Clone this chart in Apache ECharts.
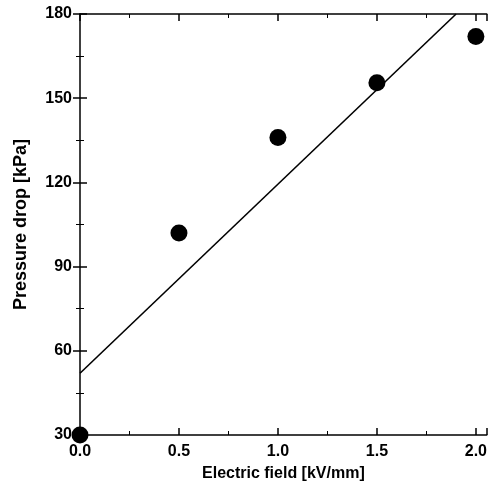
<!DOCTYPE html>
<html><head><meta charset="utf-8">
<script src="https://cdn.jsdelivr.net/npm/echarts@6/dist/echarts.min.js"></script>
<style>html,body{margin:0;padding:0;background:#fff}#c{width:490px;height:487px}</style>
</head><body><div id="c"></div>
<script>
const fieldKV = [0.0, 0.5, 1.0, 1.5, 2.0];
const pressureKPa = [30, 102, 136, 155.5, 172];
const fitLineX = [0.0, 1.9];
const fitLineY = [52, 180];
const xTicks = [0.0, 0.5, 1.0, 1.5, 2.0];
const yTicks = [30, 60, 90, 120, 150, 180];

const font = 'Liberation Sans, Arial, sans-serif';
const chart = echarts.init(document.getElementById('c'));
function axisBase(extra) {
  return Object.assign({
    type: 'value',
    axisLine: {show: true, onZero: false, lineStyle: {color: '#000', width: 1.5}},
    axisTick: {show: true, inside: true, length: 7, lineStyle: {color: '#000', width: 1.5}},
    minorTick: {show: true, splitNumber: 2, length: 4, lineStyle: {color: '#000', width: 1}},
    splitLine: {show: false}
  }, extra);
}
const tickIn = {show: true, inside: false, length: -7, lineStyle: {color: '#000', width: 1.5}};
const minorIn = {show: true, splitNumber: 2, length: -4, lineStyle: {color: '#000', width: 1}};
const xLabel = v => xTicks.some(t => Math.abs(t - v) < 1e-6) ? v.toFixed(1) : '';
const yLabel = v => yTicks.includes(v) ? String(v) : '';
const labelStyle = {fontFamily: font, fontWeight: 'bold', fontSize: 16, color: '#000'};
chart.setOption({
  animation: false,
  grid: {left: 80, top: 14, width: 409, height: 422},
  xAxis: [
    axisBase({
      min: 0, max: 2.055, interval: 0.5, position: 'bottom',
      axisTick: tickIn, minorTick: minorIn,
      name: 'Electric field [kV/mm]', nameLocation: 'middle', nameGap: 31,
      nameTextStyle: {fontFamily: font, fontWeight: 'bold', fontSize: 16, color: '#000'},
      axisLabel: Object.assign({formatter: xLabel, showMaxLabel: false, margin: 9}, labelStyle)
    }),
    axisBase({
      min: 0, max: 2.055, interval: 0.5, position: 'top',
      axisLabel: {show: false}
    })
  ],
  yAxis: [
    axisBase({
      min: 30, max: 180, interval: 30, position: 'left',
      axisTick: tickIn, minorTick: minorIn,
      name: 'Pressure drop [kPa]', nameLocation: 'middle', nameGap: 50,
      nameTextStyle: {fontFamily: font, fontWeight: 'bold', fontSize: 18, color: '#000'},
      axisLabel: Object.assign({formatter: yLabel, margin: 8}, labelStyle)
    }),
    axisBase({
      min: 30, max: 180, interval: 30, position: 'right',
      axisLine: {show: false},
      axisLabel: {show: false}
    })
  ],
  series: [
    {
      type: 'line', xAxisIndex: 0, yAxisIndex: 0,
      data: fitLineX.map((x, i) => [x, fitLineY[i]]),
      showSymbol: false, clip: true,
      lineStyle: {color: '#000', width: 1.6}
    },
    {
      type: 'scatter', xAxisIndex: 0, yAxisIndex: 0,
      data: fieldKV.map((x, i) => [x, pressureKPa[i]]),
      symbol: 'circle', symbolSize: 17, clip: false,
      itemStyle: {color: '#000', opacity: 1}
    }
  ]
});
</script></body></html>
